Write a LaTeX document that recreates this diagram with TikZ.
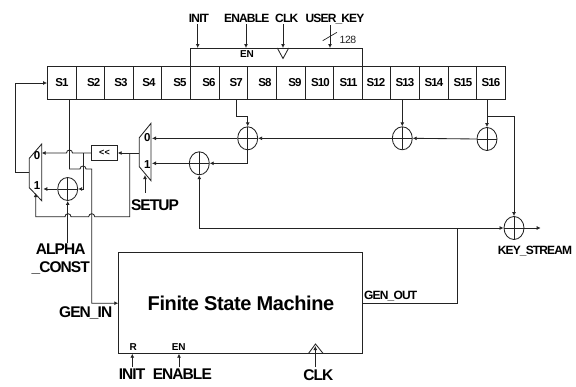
\documentclass[tikz,border=0pt]{standalone}
\usepackage{fontspec}
\setmainfont{Liberation Sans}
\usepackage{tikz}
\usetikzlibrary{arrows.meta, shapes.geometric}
\definecolor{wire}{RGB}{35,35,35}
\tikzset{
  wireline/.style={draw=wire, line width=0.85pt},
  arrowline/.style={wireline, -{Latex[length=4pt,width=4pt]}},
  cellbox/.style={draw=wire, line width=0.85pt, minimum height=33pt, inner sep=0pt},
  xorgate/.style={ellipse, draw=wire, line width=0.85pt, minimum width=20pt, minimum height=23pt, inner sep=0pt,
    path picture={\draw[wire, line width=0.7pt] (path picture bounding box.north) -- (path picture bounding box.south)
      (path picture bounding box.west) -- (path picture bounding box.east);}},
  toplbl/.style={font=\bfseries\fontsize{12}{12}\selectfont\addfontfeatures{LetterSpace=-7}, inner sep=0pt},
  biglbl/.style={font=\bfseries\fontsize{15.5}{16}\selectfont\addfontfeatures{LetterSpace=-6}, inner sep=0pt},
  smalllbl/.style={font=\bfseries\fontsize{10}{10}\selectfont, inner sep=0pt},
  celllbl/.style={font=\bfseries\fontsize{11.5}{12}\selectfont\addfontfeatures{LetterSpace=-8}, inner sep=0pt},
  muxlbl/.style={font=\bfseries\fontsize{11.5}{12}\selectfont, inner sep=0pt}
}
\begin{document}
\begin{tikzpicture}[x=1pt, y=-1pt]
    \useasboundingbox (0,0) rectangle (576,386);
    % register cells
    \foreach \i/\xa/\xb/\xt in {1/47.5/76/62, 2/76/104.5/93.7, 3/104.5/133/121, 4/133/161.5/149,
      5/161.5/190.5/180, 6/190.5/219/209, 7/219/247.5/236.3, 8/247.5/276.5/265, 9/276.5/305/295,
      10/305/333.5/320.5, 11/333.5/362/348.5, 12/362/390.5/376, 13/390.5/419/405, 14/419/448/434,
      15/448/476.5/463, 16/476.5/505/491} {
      \node[cellbox, minimum width=\xb pt-\xa pt] (s\i) at ({(\xa+\xb)/2},83) {};
      \node[celllbl] (t\i) at (\xt,83) {S\i};
    }
    % enable box above S6..S11
    \node[draw=wire, line width=0.85pt, minimum width=171.5pt, minimum height=18.5pt, inner sep=0pt] (enbox) at (276.25,57.25) {};
    \node[smalllbl] (enlbl) at (247,54) {EN};
    \coordinate (clktipa) at (277.3,48);
    \coordinate (clktipb) at (288.7,48);
    \coordinate (clktip) at (283,58.5);
    \draw[wireline] (clktipa) -- (clktip) -- (clktipb);
    \node[toplbl] (initt) at (199,18.5) {INIT};
    \node[toplbl] (enablet) at (246.7,18.5) {ENABLE};
    \node[toplbl] (clkt) at (286.7,18.5) {CLK};
    \node[toplbl] (keyt) at (335,19.5) {USER\_KEY};
    \node[font=\fontsize{10.5}{11}\selectfont\addfontfeatures{LetterSpace=-4}, inner sep=0pt, text=wire] (bits) at (348,40) {128};
    \coordinate (inita) at (197.7,24);
    \coordinate (initb) at (197.7,48);
    \coordinate (enablea) at (246,24);
    \coordinate (enableb) at (246,48);
    \coordinate (clka) at (283,24);
    \coordinate (clkb) at (283,48);
    \coordinate (keya) at (330,25);
    \coordinate (keyb) at (330,48);
    \draw[arrowline] (inita) -- (initb);
    \draw[arrowline] (enablea) -- (enableb);
    \draw[arrowline] (clka) -- (clkb);
    \draw[arrowline] (keya) -- (keyb);
    \coordinate (slasha) at (322.7,40.7);
    \coordinate (slashb) at (337,32.3);
    \draw[wireline, line width=0.7pt] (slasha) -- (slashb);
    % xor gates
    \node[xorgate] (x7) at (247.7,138.3) {};
    \node[xorgate] (x13) at (402.3,138.3) {};
    \node[xorgate] (x16) at (487,139) {};
    \node[xorgate] (xin) at (199.3,163.3) {};
    \node[xorgate] (xout) at (514,228) {};
    \node[xorgate] (xa) at (67.7,189) {};
    % generator
    \node[draw=wire, line width=0.85pt, minimum width=243.3pt, minimum height=101pt, inner sep=0pt] (fsm) at (240.35,303.2) {};
    \node[font=\bfseries\fontsize{20}{20}\selectfont\addfontfeatures{LetterSpace=-2}, inner sep=0pt] (fsmt) at (241,303) {Finite State Machine};
    \node[biglbl] (genin) at (85.7,313) {GEN\_IN};
    \node[toplbl] (genout) at (390.7,295.7) {GEN\_OUT};
    % muxes
    \coordinate (ma1) at (41.7,144);
    \coordinate (ma2) at (29.3,158.3);
    \coordinate (ma3) at (29.3,187.7);
    \coordinate (ma4) at (41.7,200.7);
    \draw[wireline] (ma1) -- (ma2) -- (ma3) -- (ma4) -- cycle;
    \node[muxlbl] (ma0t) at (37,156) {0};
    \node[muxlbl] (ma1t) at (37,185.5) {1};
    \coordinate (mb1) at (151,123.3);
    \coordinate (mb2) at (139.3,137.7);
    \coordinate (mb3) at (139.3,166.7);
    \coordinate (mb4) at (151,180.7);
    \draw[wireline] (mb1) -- (mb2) -- (mb3) -- (mb4) -- cycle;
    \node[muxlbl] (mb0t) at (147.3,138) {0};
    \node[muxlbl] (mb1t) at (147.3,165) {1};
    \node[draw=wire, line width=0.85pt, minimum width=25.6pt, minimum height=14.6pt, inner sep=0pt, font=\bfseries\fontsize{9}{9}\selectfont] (shift) at (104.5,153) {{<}{<}};
    % feedback into the register
    \draw[arrowline] (ma2 |- 0,172) -- (15.3,172) -- (15.3,83) -- (s1.west);
    \draw[arrowline] (mb2 |- shift) -- (shift.east);
    \draw[arrowline] (shift.west) -- (72.5,153) arc[start angle=0, end angle=-180, radius=3] -- (41.7,153);
    \draw[arrowline] (83,153) -- (83,189) -- (xa.east);
    \draw[arrowline] (xa.west) -- (43.3,189);
    % S1 down to the generator
    \draw[arrowline] (s1.south -| 69.5,0) -- (69.5,169) -- (80,169) arc[start angle=180, end angle=360, radius=3] -- (91.7,169) -- (91.7,303.2) -- (fsm.west);
    % setup branch
    \draw[arrowline] (129.7,153) -- (129.7,216.7) -- (94.7,216.7) arc[start angle=0, end angle=-180, radius=3] -- (71,216.7) arc[start angle=0, end angle=-180, radius=3] -- (35.7,216.7) -- (35.7,193);
    \coordinate (alphaa) at (67.7,243);
    \draw[arrowline] (alphaa) -- (xa.south);
    \node[biglbl] (alphat) at (60.7,249.5) {ALPHA};
    \node[biglbl] (constt) at (60.7,268) {\_CONST};
    \coordinate (setupa) at (145,192.7);
    \coordinate (setupb) at (145,175);
    \draw[arrowline] (setupa) -- (setupb);
    \node[biglbl] (setupt) at (155,205) {SETUP};
    % register taps
    \draw[arrowline] (s7.south -| 236.7,0) -- (236.7,116) -- (247.7,116) -- (x7.north);
    \draw[arrowline] (s13.south -| x13) -- (x13.north);
    \draw[arrowline] (s16.south -| x16) -- (x16.north);
    \draw[arrowline] (x16.west) -- (x13.east);
    \draw[arrowline] (x13.west) -- (x7.east);
    \draw[arrowline] (x7.west) -- (152,138.3);
    \draw[arrowline] (x7.south) -- (247.7,163.3) -- (xin.east);
    \draw[arrowline] (xin.west) -- (152,163.3);
    \draw[arrowline] (487,116.7) -- (514,116.7) -- (xout.north);
    \coordinate (keyout) at (540.7,228);
    \draw[arrowline] (xout.east) -- (keyout);
    \node[toplbl] (streamt) at (535,251) {KEY\_STREAM};
    \draw[wireline] (fsm.east) -- (457,303.2) -- (457,228);
    \draw[arrowline] (199.3,228) -- (xout.west);
    \draw[arrowline] (199.3,228) -- (xin.south);
    \node[smalllbl] (rlbl) at (133.3,347.3) {R};
    \node[smalllbl] (fsmen) at (178.7,347.3) {EN};
    \coordinate (finita) at (132.3,367);
    \coordinate (fenablea) at (179,367);
    \coordinate (fclka) at (315.3,367);
    \draw[arrowline] (finita) -- (132.3,353.7);
    \draw[arrowline] (fenablea) -- (179,353.7);
    \draw[arrowline] (fclka) -- (315.3,346);
    \coordinate (ftria) at (308.3,353.7);
    \coordinate (ftrib) at (323.3,353.7);
    \coordinate (ftrit) at (315.5,344);
    \draw[wireline] (ftria) -- (ftrit) -- (ftrib);
    \node[biglbl] (finit) at (132,374) {INIT};
    \node[biglbl] (fenable) at (182.3,374) {ENABLE};
    \node[biglbl] (fclk) at (318.3,375) {CLK};
\end{tikzpicture}
\end{document}
